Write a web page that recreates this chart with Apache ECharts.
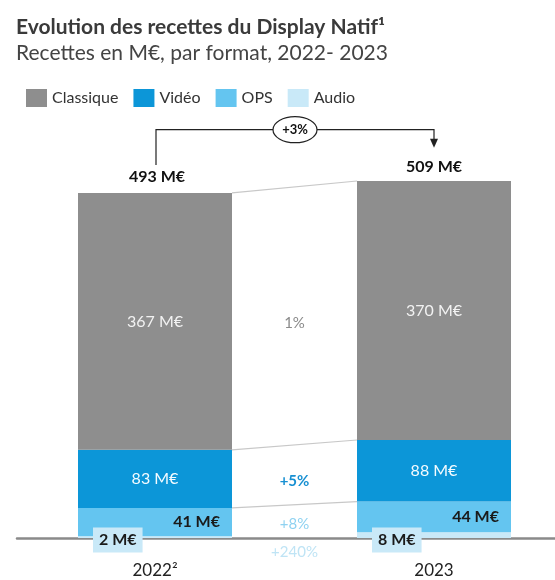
<!DOCTYPE html>
<html>
<head>
<meta charset="utf-8">
<script src="https://cdn.jsdelivr.net/npm/echarts@6/dist/echarts.min.js"></script>
<style>
  html, body { margin: 0; padding: 0; background: #ffffff; }
  #chart { width: 555px; height: 580px; }
</style>
</head>
<body>
<div id="chart"></div>
<script>
// Display Natif revenue by format (M€)
const years = ['2022²', '', '2023'];   // middle slot holds the growth rates
const classique = [367, null, 370];
const video = [83, null, 88];
const ops = [41, null, 44];
const audio = [2, null, 8];
const totals = [493, 509];
const totalGrowth = '+3%';
// growth per format: Classique, Vidéo, OPS, Audio
const growth = ['1%', '+5%', '+8%', '+240%'];

const FONT = 'Lato';
const BAR_W = 154;
const C_CLASSIQUE = '#8e8e8e';
const C_VIDEO = '#0c96d8';
const C_OPS = '#64c5f0';
const C_AUDIO = '#c9e9f8';

const chart = echarts.init(document.getElementById('chart'));
const meur = v => v + ' M€';

// stacked boundaries per bar (index 0 = 2022, 2 = 2023)
const stackTop = (arrs, i) => arrs.reduce((s, a) => s + a[i], 0);
const opsTop = [stackTop([audio, ops], 0), stackTop([audio, ops], 2)];
const videoTop = [stackTop([audio, ops, video], 0), stackTop([audio, ops, video], 2)];
const classTop = [stackTop([audio, ops, video, classique], 0), stackTop([audio, ops, video, classique], 2)];

// 2022 segment bounds, used to place the growth labels between the bars
const segments = [
  [videoTop[0], classTop[0]],
  [opsTop[0], videoTop[0]],
  [audio[0], opsTop[0]],
  [0, audio[0]]
];
const growthStyle = [
  { fill: '#8a8a8a', weight: 'normal' },
  { fill: '#1890d2', weight: 'bold' },
  { fill: '#8fd2f1', weight: 'normal' },
  { fill: '#bfe4f5', weight: 'normal' }
];

const barLabelBase = { fontFamily: FONT, fontSize: 16 };

const option = {
  animation: false,
  textStyle: { fontFamily: FONT },
  title: {
    text: 'Evolution des recettes du Display Natif¹',
    subtext: 'Recettes en M€, par format, 2022- 2023',
    left: 11,
    top: 12,
    itemGap: 5,
    textStyle: { fontFamily: FONT, fontSize: 21, fontWeight: 'bold', color: '#3a3a3a' },
    subtextStyle: { fontFamily: FONT, fontSize: 21, color: '#444444' }
  },
  legend: {
    data: ['Classique', 'Vidéo', 'OPS', 'Audio'],
    left: 21,
    top: 84,
    icon: 'rect',
    itemWidth: 21,
    itemHeight: 18,
    itemGap: 15,
    textStyle: { fontFamily: FONT, fontSize: 16, color: '#333333' }
  },
  grid: [
    { left: 85.25, width: 418.5, top: 118, bottom: 42 },
    { left: 17, right: 0, top: 118, bottom: 42 }
  ],
  xAxis: [
    {
      type: 'category', gridIndex: 0, data: years,
      axisLine: { show: false },
      axisTick: { show: false },
      axisLabel: { fontFamily: FONT, fontSize: 17, color: '#222222', margin: 24 }
    },
    {
      // full-width baseline
      type: 'category', gridIndex: 1, data: [''], z: 3,
      axisLine: { lineStyle: { color: '#8a8a8a', width: 2.5 } },
      axisTick: { show: false },
      axisLabel: { show: false }
    }
  ],
  yAxis: [
    { type: 'value', gridIndex: 0, min: 0, max: 600, show: false },
    { type: 'value', gridIndex: 1, min: 0, max: 600, show: false }
  ],
  series: [
    {
      name: 'Audio', type: 'bar', stack: 'total', barWidth: BAR_W, clip: false, data: audio, z: 4,
      itemStyle: { color: C_AUDIO },
      label: {
        show: true, position: [15, '100%'], align: 'left', verticalAlign: 'middle', offset: [0, 2],
        formatter: p => meur(p.value),
        ...barLabelBase, fontWeight: 'bold', color: '#1a1a1a',
        backgroundColor: C_AUDIO, padding: [5, 6, 4, 6]
      }
    },
    {
      name: 'OPS', type: 'bar', stack: 'total', barWidth: BAR_W, clip: false, data: ops,
      itemStyle: { color: C_OPS },
      label: {
        show: true, position: 'insideRight', distance: 12,
        formatter: p => meur(p.value),
        ...barLabelBase, fontWeight: 'bold', color: '#1a1a1a'
      }
    },
    {
      name: 'Vidéo', type: 'bar', stack: 'total', barWidth: BAR_W, clip: false, data: video,
      itemStyle: { color: C_VIDEO },
      label: { show: true, position: 'inside', formatter: p => meur(p.value), ...barLabelBase, color: '#f4fbff' }
    },
    {
      name: 'Classique', type: 'bar', stack: 'total', barWidth: BAR_W, clip: false, data: classique,
      itemStyle: { color: C_CLASSIQUE },
      label: { show: true, position: 'inside', formatter: p => meur(p.value), ...barLabelBase, color: '#f2f2f2' }
    },
    {
      // thin links between the segment boundaries of both bars
      type: 'custom', silent: true,
      data: [[0, opsTop[0], opsTop[1]], [0, videoTop[0], videoTop[1]], [0, classTop[0], classTop[1]]],
      renderItem: (params, api) => {
        const a = api.coord([0, api.value(1)]);
        const b = api.coord([2, api.value(2)]);
        return {
          type: 'line',
          shape: { x1: a[0] + BAR_W / 2, y1: a[1], x2: b[0] - BAR_W / 2, y2: b[1] },
          style: { stroke: '#c8c8c8', lineWidth: 1.2 }
        };
      }
    },
    {
      // growth rate per format, between the two bars
      type: 'custom', silent: true,
      data: segments.map((s, i) => [1, s[0], s[1], i]),
      renderItem: (params, api) => {
        const i = api.value(3);
        const mid = (api.value(1) + api.value(2)) / 2;
        const p = api.coord([1, mid]);
        const y = i === 3 ? api.coord([1, 0])[1] + 14 : p[1] + 2;
        return {
          type: 'text', x: p[0], y: y,
          style: {
            text: growth[i], fill: growthStyle[i].fill,
            fontFamily: FONT, fontSize: 15, fontWeight: growthStyle[i].weight,
            align: 'center', verticalAlign: 'middle'
          }
        };
      }
    },
    {
      // totals above the bars and the overall growth bracket
      type: 'custom', silent: true, clip: false,
      data: [[1]],
      renderItem: (params, api) => {
        const p0 = api.coord([0, totals[0]]);
        const p1 = api.coord([2, totals[1]]);
        const yLine = p1[1] - 52;
        const x0 = p0[0] + 1;
        const x1 = p1[0];
        const xm = (x0 + x1) / 2;
        const txt = (x, y, t, size) => ({
          type: 'text', x: x, y: y,
          style: { text: t, fill: '#111111', fontFamily: FONT, fontSize: size, fontWeight: 'bold', align: 'center', verticalAlign: 'middle' }
        });
        return {
          type: 'group',
          children: [
            txt(p0[0] + 2, p0[1] - 16, meur(totals[0]), 16),
            txt(p1[0], p1[1] - 15, meur(totals[1]), 16),
            {
              type: 'polyline',
              shape: { points: [[x0, p0[1] - 28], [x0, yLine], [x1, yLine], [x1, p1[1] - 42]] },
              style: { stroke: '#222222', lineWidth: 1.2, fill: null }
            },
            {
              type: 'polygon',
              shape: { points: [[x1 - 4, p1[1] - 43], [x1 + 4, p1[1] - 43], [x1, p1[1] - 34]] },
              style: { fill: '#222222' }
            },
            {
              type: 'ellipse',
              shape: { cx: xm, cy: yLine, rx: 22, ry: 13 },
              style: { fill: '#ffffff', stroke: '#222222', lineWidth: 1.2 }
            },
            txt(xm, yLine, totalGrowth, 13)
          ]
        };
      }
    }
  ]
};

chart.setOption(option);
</script>
</body>
</html>
